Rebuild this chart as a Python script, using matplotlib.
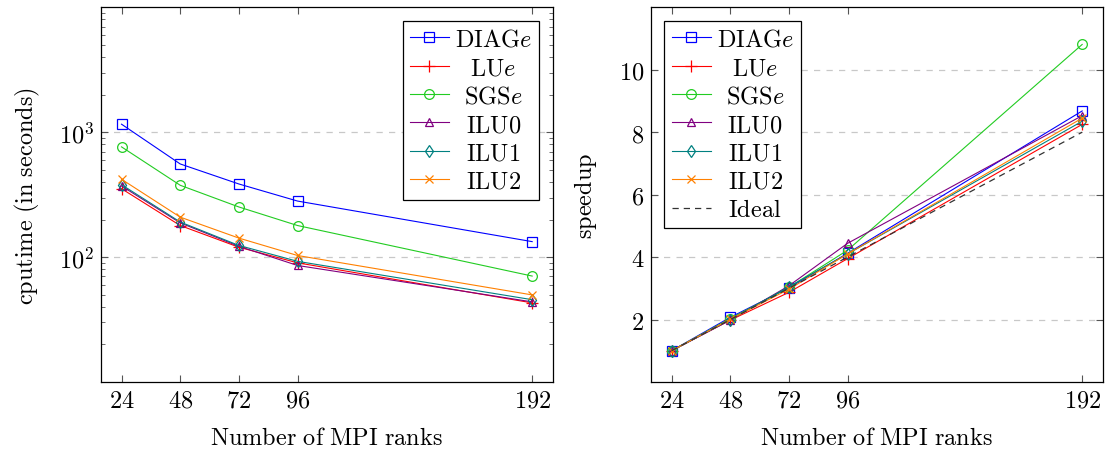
import matplotlib
matplotlib.use("Agg")
import matplotlib.pyplot as plt
from matplotlib.ticker import FixedLocator, FixedFormatter, NullFormatter, LogLocator

plt.rcParams['mathtext.fontset'] = 'cm'
plt.rcParams['font.family'] = ['DejaVu Serif']

ranks = [24, 48, 72, 96, 192]
rank_labels = ['24', '48', '72', '96', '192']

labels = [r'$\mathrm{DIAG}e$', r'$\mathrm{LU}e$', r'$\mathrm{SGS}e$',
          r'$\mathrm{ILU0}$', r'$\mathrm{ILU1}$', r'$\mathrm{ILU2}$']

time_diag = [1159, 557, 385, 281, 133]
time_lu = [353, 179, 120, 90, 43]
time_sgs = [763, 376, 252, 179, 70.5]
time_ilu0 = [371, 188, 122, 85.7, 43.8]
time_ilu1 = [380, 191, 124, 92.5, 45.6]
time_ilu2 = [420, 209, 142, 103, 49.8]

sp_diag = [1, 2.07, 3.01, 4.12, 8.68]
sp_lu = [1, 1.98, 2.87, 3.95, 8.25]
sp_sgs = [1, 2.03, 3.03, 4.22, 10.81]
sp_ilu0 = [1, 1.98, 3.08, 4.44, 8.53]
sp_ilu1 = [1, 2.00, 3.05, 4.10, 8.35]
sp_ilu2 = [1, 2.01, 2.97, 4.10, 8.45]
sp_ideal = [1, 2, 3, 4, 8]

colors = ['#0000ff', '#ff0000', '#22cc22', '#800080', '#008080', '#ff8000']
markers = ['s', '+', 'o', '^', 'd', 'x']
msizes = [7, 8, 7, 6, 6, 6]

times = [time_diag, time_lu, time_sgs, time_ilu0, time_ilu1, time_ilu2]
speeds = [sp_diag, sp_lu, sp_sgs, sp_ilu0, sp_ilu1, sp_ilu2]

W, H = 1109, 452
fig = plt.figure(figsize=(W / 100, H / 100), dpi=100)
bot = (H - 383) / H
hgt = (383 - 8.3) / H
ax1 = fig.add_axes([101 / W, bot, (552.7 - 101) / W, hgt])
ax2 = fig.add_axes([651 / W, bot, (1102.7 - 651) / W, hgt])

fs = 17.5

for t, c, m, ms, lab in zip(times, colors, markers, msizes, labels):
    ax1.plot(ranks, t, color=c, marker=m, ms=ms, mfc='none', mec=c, lw=0.8, mew=0.9, label=lab)
for s, c, m, ms, lab in zip(speeds, colors, markers, msizes, labels):
    ax2.plot(ranks, s, color=c, marker=m, ms=ms, mfc='none', mec=c, lw=0.8, mew=0.9, label=lab)
ax2.plot(ranks, sp_ideal, color='#333333', ls=(0, (5, 4)), lw=0.9, label=r'$\mathrm{Ideal}$')

xmin, xmax = 24 - 8.4, 192 + 8.4
for ax in (ax1, ax2):
    ax.set_xlim(xmin, xmax)
    ax.xaxis.set_major_locator(FixedLocator(ranks))
    ax.xaxis.set_major_formatter(FixedFormatter(['$%s$' % r for r in rank_labels]))
    ax.tick_params(which='both', direction='in', top=True, right=True, labelsize=fs,
                   color='#555555')
    ax.tick_params(which='major', length=5, width=0.8, pad=5)
    ax.tick_params(which='minor', length=3, width=0.6)
    ax.grid(True, axis='y', which='major', ls=(0, (5, 5)), color='#c8c8c8', lw=0.9)
    ax.set_axisbelow(True)
    for sp in ax.spines.values():
        sp.set_linewidth(0.9)
    ax.set_xlabel(r'$\mathrm{Number\ of\ MPI\ ranks}$', fontsize=fs, labelpad=10)

ax1.set_yscale('log')
ax1.set_ylim(10, 10000)
ax1.yaxis.set_major_locator(FixedLocator([100, 1000]))
ax1.yaxis.set_major_formatter(FixedFormatter([r'$10^{2}$', r'$10^{3}$']))
ax1.yaxis.set_minor_locator(LogLocator(base=10, subs=range(2, 10)))
ax1.yaxis.set_minor_formatter(NullFormatter())
ax1.set_ylabel(r'$\mathrm{cputime\ (in\ seconds)}$', fontsize=fs, labelpad=12)

ax2.set_ylim(0, 12)
ax2.yaxis.set_major_locator(FixedLocator([2, 4, 6, 8, 10]))
ax2.yaxis.set_major_formatter(FixedFormatter([r'$2$', r'$4$', r'$6$', r'$8$', r'$10$']))
ax2.set_ylabel(r'$\mathrm{speedup}$', fontsize=fs, labelpad=14)

leg_kw = dict(fontsize=fs, frameon=True, fancybox=False, edgecolor='black',
              framealpha=1, handlelength=1.6, borderpad=0.3, labelspacing=0.22,
              handletextpad=0.25, borderaxespad=0.55)
l1 = ax1.legend(loc='upper right', **leg_kw)
l2 = ax2.legend(loc='upper left', **leg_kw)
for l in (l1, l2):
    l.get_frame().set_linewidth(0.9)

# centre the legend texts within their column (as pgfplots does)
renderer = fig.canvas.get_renderer()
for l in (l1, l2):
    txts = l.get_texts()
    widths = [t.get_window_extent(renderer).width for t in txts]
    wmax = max(widths)
    for t, w in zip(txts, widths):
        t.set_x((wmax - w) / 2.0)

fig.savefig('out.png', dpi=100)
